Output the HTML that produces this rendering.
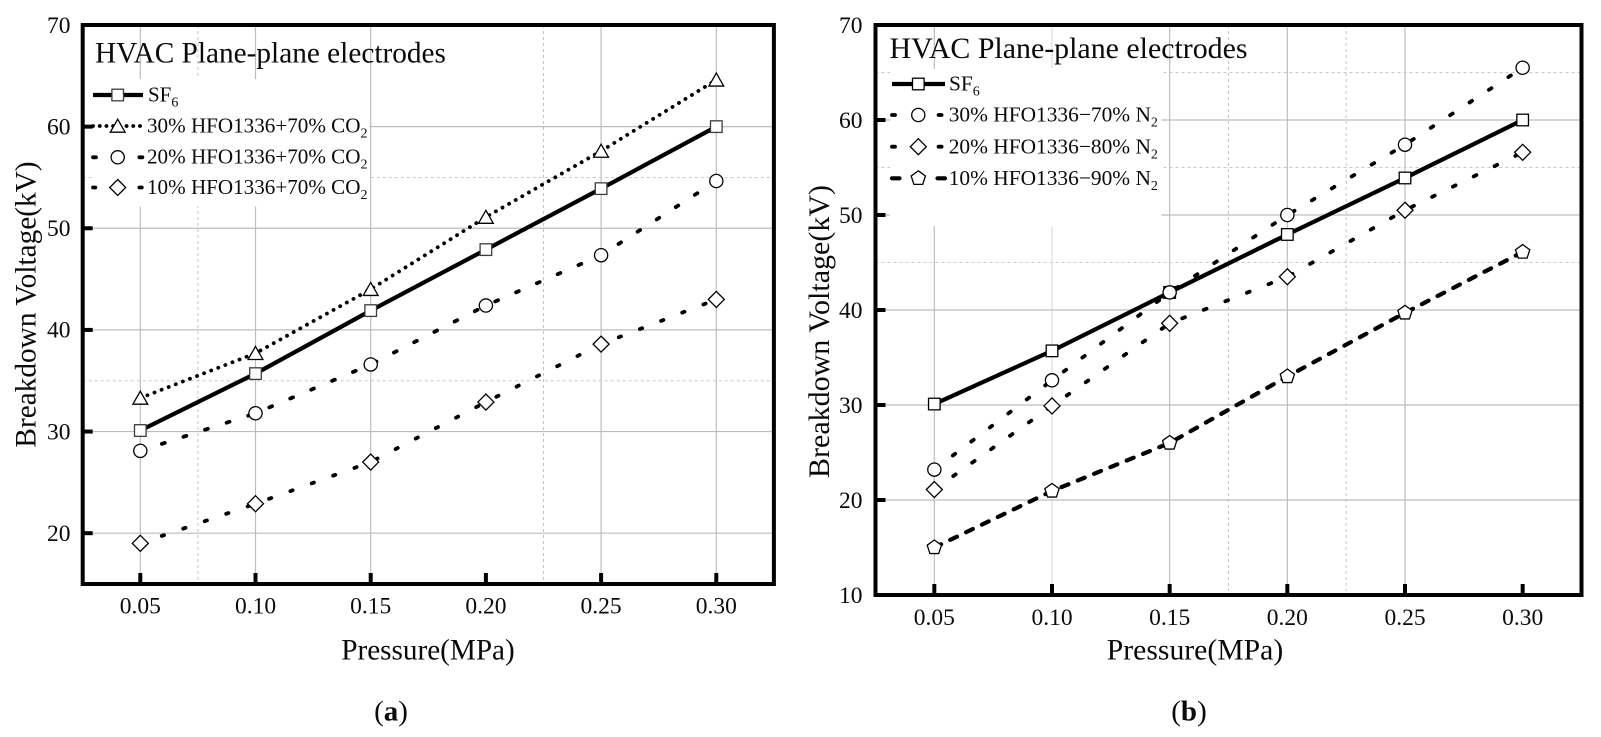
<!DOCTYPE html>
<html lang="en">
<head>
<meta charset="utf-8">
<title>Breakdown voltage charts</title>
<style>
html,body{margin:0;padding:0;background:#fff;}
svg{display:block;}
text{font-family:"Liberation Serif",serif;fill:#0a0a0a;}
</style>
</head>
<body>
<svg id="fig" xmlns="http://www.w3.org/2000/svg" width="1601" height="737" viewBox="0 0 1601 737">
<rect width="1601" height="737" fill="#fff"/>
<g id="chart-a"></g>
<g id="chart-b"></g>

<g>
<text x="95" y="62.5" font-size="29.3">HVAC Plane-plane electrodes</text>
<text x="148" y="101.5" font-size="21">SF<tspan font-size="14" dy="5">6</tspan></text>
<text x="147" y="132.7" font-size="21.1">30% HFO1336+70% CO<tspan font-size="14" dy="5">2</tspan></text>
<text x="147" y="163.5" font-size="21.1">20% HFO1336+70% CO<tspan font-size="14" dy="5">2</tspan></text>
<text x="147" y="194" font-size="21.1">10% HFO1336+70% CO<tspan font-size="14" dy="5">2</tspan></text>
<text transform="translate(35.5 304.5) rotate(-90)" text-anchor="middle" font-size="29.3">Breakdown Voltage(kV)</text>
<text x="428" y="659.5" text-anchor="middle" font-size="29.2">Pressure(MPa)</text>
<text x="391" y="720.5" text-anchor="middle" font-size="29">(<tspan font-weight="bold">a</tspan>)</text>
</g>

<g>
<text x="889.5" y="58" font-size="29.9">HVAC Plane-plane electrodes</text>
<text x="949" y="90.5" font-size="21.4">SF<tspan font-size="14" dy="5">6</tspan></text>
<text x="948.7" y="121.7" font-size="21.4">30% HFO1336−70% N<tspan font-size="14" dy="5">2</tspan></text>
<text x="948.7" y="153.3" font-size="21.4">20% HFO1336−80% N<tspan font-size="14" dy="5">2</tspan></text>
<text x="948.7" y="185" font-size="21.4">10% HFO1336−90% N<tspan font-size="14" dy="5">2</tspan></text>
<text transform="translate(829 331.5) rotate(-90)" text-anchor="middle" font-size="30">Breakdown Voltage(kV)</text>
<text x="1195" y="659.5" text-anchor="middle" font-size="29.7">Pressure(MPa)</text>
<text x="1189" y="720.5" text-anchor="middle" font-size="29">(<tspan font-weight="bold">b</tspan>)</text>
</g>
</svg>

<script>
var pressures = [0.05, 0.10, 0.15, 0.20, 0.25, 0.30];
var xTickValues = [0.05, 0.10, 0.15, 0.20, 0.25, 0.30];
var xTickLabels = ["0.05", "0.10", "0.15", "0.20", "0.25", "0.30"];

var sf6A = [30.1, 35.7, 41.9, 47.9, 53.9, 60.0];
var hfo30A = [33.3, 37.7, 44.0, 51.1, 57.6, 64.6];
var hfo20A = [28.1, 31.8, 36.6, 42.4, 47.35, 54.65];
var hfo10A = [19.0, 22.9, 27.0, 32.9, 38.6, 43.0];
var yTicksA = [20, 30, 40, 50, 60, 70];
var gridYA = [20, 30, 40, 50, 60];
var minorYA = [35, 55];
var gridXA = [0.05, 0.10, 0.15, 0.25, 0.30];
var minorXA = [0.075, 0.225];

var sf6B = [30.1, 35.7, 41.85, 47.95, 53.9, 60.0];
var n30B = [23.2, 32.6, 41.85, 50.0, 57.4, 65.5];
var n20B = [21.1, 29.9, 38.6, 43.5, 50.5, 56.6];
var n10B = [15.0, 20.95, 26.0, 33.0, 39.7, 46.1];
var yTicksB = [10, 20, 30, 40, 50, 60, 70];
var gridYB = [20, 30, 40, 50, 60];
var minorYB = [45, 55, 65];
var gridXB = [0.05, 0.10, 0.15, 0.20, 0.25];
var minorXB = [0.175, 0.225];

var NS = 'http://www.w3.org/2000/svg';

function mk(parent, tag, attrs, name) {
  var el = document.createElementNS(NS, tag);
  for (var k in attrs) { el.setAttribute(k, attrs[k]); }
  
  
  parent.appendChild(el);
  return el;
}

function scale(d0, d1, r0, r1) {
  return function (v) { return r0 + (v - d0) * (r1 - r0) / (d1 - d0); };
}

function marker(parent, kind, cx, cy, stroke, name) {
  var common = { fill: '#fff', stroke: stroke, 'stroke-width': 1.3 };
  var a = Object.assign({}, common);
  if (kind === 'square') {
    a.x = cx - 5.8; a.y = cy - 5.8; a.width = 11.6; a.height = 11.6;
    mk(parent, 'rect', a, name);
  } else if (kind === 'circle') {
    a.cx = cx; a.cy = cy; a.r = 6.6;
    mk(parent, 'circle', a, name);
  } else if (kind === 'diamond') {
    a.points = [cx, cy - 8, cx + 8, cy, cx, cy + 8, cx - 8, cy].join(' ');
    mk(parent, 'polygon', a, name);
  } else if (kind === 'triangle') {
    a.points = [cx, cy - 6.8, cx + 7.4, cy + 6.2, cx - 7.4, cy + 6.2].join(' ');
    mk(parent, 'polygon', a, name);
  } else if (kind === 'pentagon') {
    var p = [];
    for (var i = 0; i < 5; i++) {
      var t = -Math.PI / 2 + i * 2 * Math.PI / 5;
      p.push(cx + 7.5 * Math.cos(t), cy + 7.5 * Math.sin(t));
    }
    a.points = p.join(' ');
    mk(parent, 'polygon', a, name);
  }
}

function drawChart(cfg) {
  var g = document.getElementById(cfg.id);
  var x = scale(0.025, 0.325, cfg.left, cfg.right);
  var y = scale(cfg.yMin, 70, cfg.bottom, cfg.top);
  var i;

  cfg.gridX.forEach(function (v) {
    mk(g, 'line', { x1: x(v), x2: x(v), y1: cfg.top, y2: cfg.bottom, stroke: (cfg.lightX === v ? '#dcdcdc' : '#bdbdbd'), 'stroke-width': 1.2 }, cfg.id + '-grid-x');
  });
  cfg.minorX.forEach(function (v) {
    mk(g, 'line', { x1: x(v), x2: x(v), y1: cfg.top, y2: cfg.bottom - 4, stroke: '#c4c4c4', 'stroke-width': 1, 'stroke-dasharray': '3 3' }, cfg.id + '-minor-grid-x');
  });
  cfg.gridY.forEach(function (v) {
    mk(g, 'line', { x1: cfg.left, x2: cfg.right, y1: y(v), y2: y(v), stroke: '#bdbdbd', 'stroke-width': 1.2 }, cfg.id + '-grid-y');
  });
  cfg.minorY.forEach(function (v) {
    mk(g, 'line', { x1: cfg.left, x2: cfg.right, y1: y(v), y2: y(v), stroke: '#c8c8c8', 'stroke-width': 1, 'stroke-dasharray': '3 3' }, cfg.id + '-minor-grid-y');
  });

  mk(g, 'rect', { x: cfg.mask[0], y: cfg.mask[1], width: cfg.mask[2] - cfg.mask[0], height: cfg.mask[3] - cfg.mask[1], fill: '#fff' }, cfg.id + '-legend-background');

  cfg.series.forEach(function (s) {
    var d = '';
    for (i = 0; i < pressures.length; i++) {
      d += (i ? 'L' : 'M') + x(pressures[i]).toFixed(2) + ' ' + y(s.values[i]).toFixed(2);
    }
    var attrs = { d: d, fill: 'none', stroke: '#000', 'stroke-width': s.width };
    if (s.dash) { attrs['stroke-dasharray'] = s.dash; attrs['stroke-linecap'] = 'round'; }
    mk(g, 'path', attrs, s.name + '-line');
  });
  cfg.series.forEach(function (s) {
    for (i = 0; i < pressures.length; i++) {
      marker(g, s.kind, x(pressures[i]), y(s.values[i]), s.kind === 'square' ? cfg.squareStroke : '#000', s.name + '-point');
    }
  });

  cfg.series.forEach(function (s, n) {
    var ly = cfg.legendY[n];
    var attrs = { x1: cfg.legendX[0], x2: cfg.legendX[1], y1: ly, y2: ly, stroke: '#000', 'stroke-width': s.width };
    if (s.legendDash) { attrs['stroke-dasharray'] = s.legendDash; attrs['stroke-linecap'] = 'round'; }
    mk(g, 'line', attrs, s.name + '-legend-line');
    marker(g, s.kind, cfg.legendX[2], ly, s.kind === 'square' ? cfg.squareStroke : '#000', s.name + '-legend-marker');
  });

  mk(g, 'rect', { x: cfg.left, y: cfg.top, width: cfg.right - cfg.left, height: cfg.bottom - cfg.top, fill: 'none', stroke: '#000', 'stroke-width': 4 }, cfg.id + '-frame');

  xTickValues.forEach(function (v, n) {
    mk(g, 'line', { x1: x(v), x2: x(v), y1: cfg.bottom, y2: cfg.bottom - 11, stroke: '#000', 'stroke-width': 4 }, cfg.id + '-x-tick');
    var t = mk(g, 'text', { x: x(v), y: cfg.xLabelY, 'text-anchor': 'middle', 'font-size': 23.5 }, cfg.id + '-x-tick-label');
    t.textContent = xTickLabels[n];
  });
  cfg.yTicks.forEach(function (v) {
    if (v !== 70 && v !== cfg.yMin) {
      mk(g, 'line', { x1: cfg.left, x2: cfg.left + 10, y1: y(v), y2: y(v), stroke: '#000', 'stroke-width': 4 }, cfg.id + '-y-tick');
    }
    var t = mk(g, 'text', { x: cfg.yLabelX, y: y(v) + 7.8, 'text-anchor': 'end', 'font-size': 23.5 }, cfg.id + '-y-tick-label');
    t.textContent = String(v);
  });
}

drawChart({
  id: 'chart-a', left: 82.7, right: 773.9, top: 25, bottom: 584, yMin: 15,
  gridX: gridXA, minorX: minorXA, gridY: gridYA, minorY: minorYA, yTicks: yTicksA,
  mask: [93, 79, 369.5, 206.5], xLabelY: 613.5, yLabelX: 70.5, squareStroke: '#3c3c3c',
  legendX: [93, 143, 117.7], legendY: [95, 126, 157.3, 187.5],
  series: [
    { name: 'sf6-a', values: sf6A, kind: 'square', width: 4.2 },
    { name: 'hfo30-a', values: hfo30A, kind: 'triangle', width: 3.8, dash: '0.1 7.5', legendDash: '0.1 6.6' },
    { name: 'hfo20-a', values: hfo20A, kind: 'circle', width: 3.8, dash: '3 19.7', legendDash: '3 43.4' },
    { name: 'hfo10-a', values: hfo10A, kind: 'diamond', width: 3.8, dash: '2.4 20.3', legendDash: '2.4 44' }
  ]
});

drawChart({
  id: 'chart-b', left: 875.5, right: 1581.5, top: 25, bottom: 595, yMin: 10,
  gridX: gridXB, minorX: minorXB, gridY: gridYB, minorY: minorYB, yTicks: yTicksB, lightX: 0.10,
  mask: [890, 69, 1161.5, 226], xLabelY: 625, yLabelX: 862.5, squareStroke: '#000',
  legendX: [892, 945, 918.3], legendY: [84, 115, 146.7, 178.3],
  series: [
    { name: 'sf6-b', values: sf6B, kind: 'square', width: 4.2 },
    { name: 'n30-b', values: n30B, kind: 'circle', width: 3.8, dash: '3 20.2', legendDash: '3 43.6' },
    { name: 'n20-b', values: n20B, kind: 'diamond', width: 3.8, dash: '3 20.2', legendDash: '3 43.6' },
    { name: 'n10-b', values: n10B, kind: 'pentagon', width: 4.2, dash: '7.5 10.1', legendDash: '7.5 38' }
  ]
});
</script>
</body>
</html>
